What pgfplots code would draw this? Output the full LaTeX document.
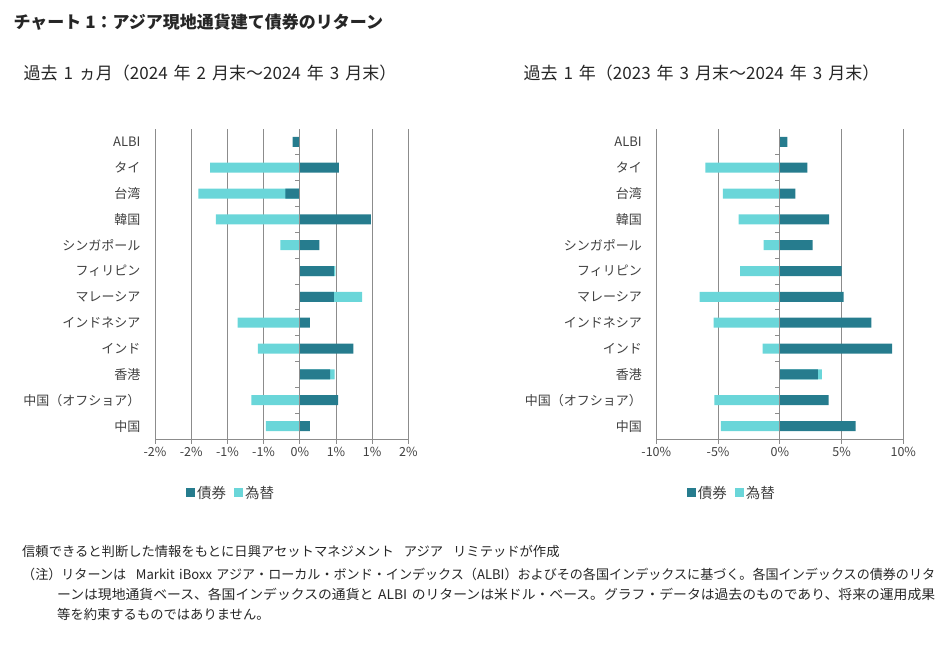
\documentclass[border=0pt]{standalone}
\usepackage{fontspec}
\setmainfont{Noto Sans CJK JP}
\usepackage{graphicx}
\usepackage{pgfplots}
\pgfplotsset{compat=1.18}
\usepackage{pgfplotstable}
\definecolor{bondc}{HTML}{267C8E}
\definecolor{fxc}{HTML}{6AD6D9}
\definecolor{gridc}{HTML}{8C8C8C}
\definecolor{txt}{HTML}{404040}
\definecolor{ttl}{HTML}{262626}
\newcommand{\tsp}{\hspace*{6pt}}
\newcommand{\fsp}{\hspace*{4.5pt}}

% idx 0 = 中国 (bottom) ... 11 = ALBI (top); values in %
\pgfplotstableread{
idx bond fx
0 0.14 -0.47
1 0.53 -0.67
2 0.42 0.06
3 0.74 -0.58
4 0.14 -0.86
5 0.47 0.39
6 0.47 0.02
7 0.27 -0.27
8 0.98 -1.16
9 -0.20 -1.20
10 0.54 -1.24
11 -0.10 0
}\monthdata

\pgfplotstableread{
idx bond fx
0 6.13 -4.78
1 3.95 -5.29
2 3.09 0.32
3 9.09 -1.40
4 7.42 -5.35
5 5.16 -6.50
6 5.00 -3.22
7 2.66 -1.31
8 4.00 -3.33
9 1.27 -4.62
10 2.23 -6.02
11 0.62 0
}\yeardata

\pgfplotsset{panel/.style={
  scale only axis, height=310pt, enlargelimits=false,
  ymin=-0.5, ymax=11.5, ytick={0,...,11},
  yticklabels={中国,中国（オフショア）,香港,インド,インドネシア,マレーシア,フィリピン,シンガポール,韓国,台湾,タイ,ALBI},
  axis x line*=bottom, axis y line*=left,
  y axis line style={draw=none}, ytick style={draw=none},
  x axis line style={gridc, line width=0.8pt},
  xtick style={gridc, line width=0.8pt},
  tick align=outside, major tick length=5pt,
  xmajorgrids, grid style={gridc, line width=0.8pt},
  xticklabel style={font=\fontsize{12.5pt}{14pt}\selectfont, text=txt},
  yticklabel style={font=\fontsize{13pt}{15pt}\selectfont, text=txt, xshift=-6pt},
  xbar, bar width=10pt, bar shift=0pt,
  legend columns=2, reverse legend,
  legend style={draw=none, fill=none, anchor=center, text=txt,
    font=\fontsize{14.5pt}{16pt}\selectfont,
    /tikz/every even column/.append style={column sep=6pt}},
  legend image code/.code={\path[#1, draw=none] (0pt,-4.5pt) rectangle (9pt,4.5pt);},
}}

\begin{document}
\begin{tikzpicture}
\path[use as bounding box] (0,0) rectangle (942pt,648pt);

\node[anchor=west, text=ttl, font=\bfseries\fontsize{17pt}{19pt}\selectfont] at (10pt,626pt) {チャート 1：アジア現地通貨建て債券のリターン};
\node[anchor=west, text=ttl, font=\fontsize{17pt}{19pt}\selectfont] at (20pt,575pt) {過去\tsp1\tsp ヵ月（2024\tsp 年\tsp2\tsp 月末～2024\tsp 年\tsp3\tsp 月末）};
\node[anchor=west, text=ttl, font=\fontsize{17pt}{19pt}\selectfont] at (520pt,575pt) {過去\tsp1\tsp 年（2023\tsp 年\tsp3\tsp 月末～2024\tsp 年\tsp3\tsp 月末）};

\begin{axis}[panel, at={(155pt,209pt)}, anchor=south west, width=253.4pt,
  xmin=-2, xmax=1.5, xtick={-2,-1.5,...,1.5},
  xticklabels={-2\%,-2\%,-1\%,-1\%,0\%,1\%,1\%,2\%},
  legend style={at={(0.30,-0.174)}}]
\addplot[fill=fxc, draw=none, bar shift=0pt] table[y=idx, x expr={(\thisrow{bond}*\thisrow{fx}>0) ? (\thisrow{bond}+\thisrow{fx}) : (\thisrow{fx})}]{\monthdata};
\addlegendentry{為替}
\addplot[fill=bondc, draw=none, bar shift=0pt] table[y=idx, x=bond]{\monthdata};
\addlegendentry{債券}
\draw[gridc, line width=0.8pt] (axis cs:0,-0.5) -- (axis cs:0,11.5);
\pgfplotsinvokeforeach{0.5,1.5,...,10.5}{\draw[gridc, line width=0.8pt] (axis cs:0,#1) -- ++(-5pt,0pt);}
\end{axis}

\begin{axis}[panel, at={(656.3pt,209pt)}, anchor=south west, width=247pt,
  xmin=-10, xmax=10, xtick={-10,-5,...,10},
  xticklabels={-10\%,-5\%,0\%,5\%,10\%},
  legend style={at={(0.306,-0.174)}}]
\addplot[fill=fxc, draw=none, bar shift=0pt] table[y=idx, x expr={(\thisrow{bond}*\thisrow{fx}>0) ? (\thisrow{bond}+\thisrow{fx}) : (\thisrow{fx})}]{\yeardata};
\addlegendentry{為替}
\addplot[fill=bondc, draw=none, bar shift=0pt] table[y=idx, x=bond]{\yeardata};
\addlegendentry{債券}
\draw[gridc, line width=0.8pt] (axis cs:0,-0.5) -- (axis cs:0,11.5);
\pgfplotsinvokeforeach{0.5,1.5,...,10.5}{\draw[gridc, line width=0.8pt] (axis cs:0,#1) -- ++(-5pt,0pt);}
\end{axis}

\begin{scope}[every node/.style={anchor=west, text=ttl, font=\fontsize{13.3pt}{15pt}\selectfont, inner sep=0pt}]
\node at (22pt,97pt) {信頼できると判断した情報をもとに日興アセットマネジメント\hspace*{10pt}アジア\hspace*{10pt}リミテッドが作成};
\node at (22pt,74pt) {\resizebox{913pt}{\height}{（注）リターンは\hspace*{10pt}Markit\fsp iBoxx\fsp アジア・ローカル・ボンド・インデックス（ALBI）およびその各国インデックスに基づく。各国インデックスの債券のリタ}};
\node at (57pt,54pt) {\resizebox{878pt}{\height}{ーンは現地通貨ベース、各国インデックスの通貨と\fsp ALBI\fsp のリターンは米ドル・ベース。グラフ・データは過去のものであり、将来の運用成果}};
\node at (57pt,34pt) {等を約束するものではありません。};
\end{scope}
\end{tikzpicture}
\end{document}
